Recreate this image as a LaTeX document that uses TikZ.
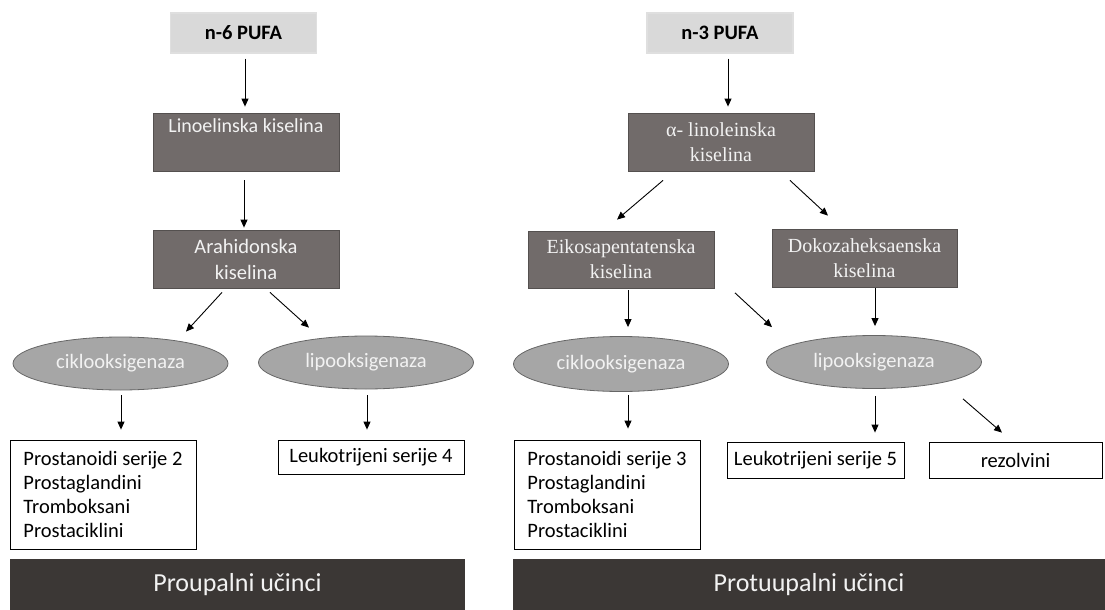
\documentclass[tikz,border=0pt]{standalone}
\usepackage{fontspec}
\setmainfont{Carlito}
\newfontfamily\seriffam{Liberation Serif}
\usetikzlibrary{shapes.geometric,arrows.meta}
\definecolor{boxgray}{HTML}{716B6A}
\definecolor{boxedge}{HTML}{54504F}
\definecolor{boxtext}{HTML}{F2F2F2}
\definecolor{ellgray}{HTML}{A6A6A6}
\definecolor{elledge}{HTML}{666666}
\definecolor{pufagray}{HTML}{D9D9D9}
\definecolor{bardark}{HTML}{3B3735}
\begin{document}
\begin{tikzpicture}[x=1pt,y=-1pt,
  pufa/.style={fill=pufagray, draw=pufagray!85!white, line width=1.5pt, minimum width=146pt, minimum height=40pt, inner sep=0pt, font=\fontsize{20.5}{23}\selectfont\bfseries},
  darkbox/.style={draw=boxedge, fill=boxgray, text=boxtext, line width=0.8pt, minimum width=186pt, minimum height=58pt, inner sep=0pt, align=center, font=\fontsize{20.5}{26}\selectfont},
  serifbox/.style={darkbox, font=\fontsize{20}{25}\selectfont\seriffam},
  enzyme/.style={ellipse, fill=ellgray, draw=elledge, line width=0.8pt, minimum width=215pt, minimum height=53pt, inner sep=0pt, text=boxtext, font=\fontsize{20.5}{24}\selectfont},
  prodbox/.style={draw=black, fill=white, line width=0.8pt, inner sep=0pt, font=\fontsize{20.5}{24.3}\selectfont},
  effect/.style={fill=bardark, text=boxtext, inner sep=0pt, minimum height=51pt, font=\fontsize{26}{30}\selectfont},
  arr/.style={line width=0.9pt, -{Triangle[length=8pt,width=7pt]}}
]
\useasboundingbox (0,0) rectangle (1105,610);

% ---------- left: n-6 ----------
\node[pufa] (pufa6) at (243.5,33) {n-6 PUFA};
\node[darkbox, font=\fontsize{20}{26}\selectfont] (lino) at (246,142) {Linoelinska kiselina\\\strut};
\node[darkbox] (arah) at (246,259) {Arahidonska\\kiselina};
\node[enzyme] (cikL) at (120.5,363.5) {ciklooksigenaza};
\node[enzyme] (lipL) at (366,362.5) {\raisebox{2pt}{lipooksigenaza}};
\node[prodbox, minimum width=186pt, minimum height=109pt, align=left] (prosL) at (103,494.5)
  {Prostanoidi serije 2\\Prostaglandini\\Tromboksani\\Prostaciklini};
\node[prodbox, minimum width=186pt, minimum height=34pt] (leuL) at (371,457) {Leukotrijeni serije 4};
\node[effect, minimum width=455pt] (barL) at (237.5,584.5) {Proupalni učinci};

% ---------- right: n-3 ----------
\node[pufa] (pufa3) at (720,33) {n-3 PUFA};
\node[serifbox] (alin) at (721,142) {α- linoleinska\\kiselina};
\node[serifbox, minimum height=57pt] (eiko) at (621,259.5) {Eikosapentatenska\\kiselina};
\node[serifbox, minimum width=185pt] (doko) at (864.5,258) {Dokozaheksaenska\\kiselina};
\node[enzyme, minimum height=55pt] (cikR) at (621,364) {ciklooksigenaza};
\node[enzyme] (lipR) at (874,362) {\raisebox{2pt}{lipooksigenaza}};
\node[prodbox, minimum width=186pt, minimum height=109pt, align=left] (prosR) at (607,494.5)
  {Prostanoidi serije 3\\Prostaglandini\\Tromboksani\\Prostaciklini};
\node[prodbox, minimum width=177pt, minimum height=36pt] (leuR) at (815.5,460) {Leukotrijeni serije 5};
\node[prodbox, minimum width=173pt, minimum height=36pt] (rez) at (1015.5,460) {rezolvini};
\node[effect, minimum width=592pt] (barR) at (809,584.5) {Protuupalni učinci};

% ---------- arrows left ----------
\draw[arr] ([shift={(1.5,5)}]pufa6.south) -- ([shift={(-1,-6)}]lino.north);
\draw[arr] ([shift={(-2,9)}]lino.south) -- ([shift={(-2,-2)}]arah.north);
\draw[arr] ([shift={(-24,4)}]arah.south) -- ([shift={(65.5,-5)}]cikL.north);
\draw[arr] ([shift={(24,4)}]arah.south) -- ([shift={(-57,-8)}]lipL.north);
\draw[arr] ([shift={(0.5,5)}]cikL.south) -- ([shift={(18,-10)}]prosL.north);
\draw[arr] ([shift={(1,6)}]lipL.south) -- ([shift={(-4,-10)}]leuL.north);

% ---------- arrows right ----------
\draw[arr] ([shift={(8,5)}]pufa3.south) -- ([shift={(7,-6)}]alin.north);
\draw[arr] ([shift={(-58,9)}]alin.south) -- ([shift={(-4,-11)}]eiko.north);
\draw[arr] ([shift={(69,9)}]alin.south) -- ([shift={(-36.5,-13)}]doko.north);
\draw[arr] ([shift={(7,2)}]eiko.south) -- ([shift={(7,-9)}]cikR.north);
\draw[arr] ([shift={(114,4.5)}]eiko.south) -- ([shift={(-102,-8)}]lipR.north);
\draw[arr] ([shift={(10.5,1)}]doko.south) -- ([shift={(1,-9)}]lipR.north);
\draw[arr] ([shift={(7,3)}]cikR.south) -- ([shift={(21,-11)}]prosR.north);
\draw[arr] ([shift={(1,7)}]lipR.south) -- ([shift={(59.5,-9)}]leuR.north);
\draw[arr] ([shift={(89,10)}]lipR.south) -- ([shift={(-13.5,-9)}]rez.north);
\end{tikzpicture}
\end{document}
